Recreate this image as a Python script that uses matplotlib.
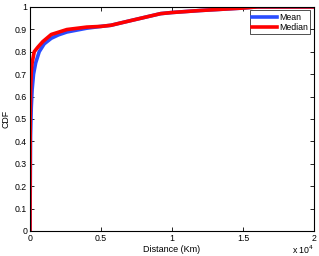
import matplotlib
matplotlib.use("Agg")
import matplotlib.pyplot as plt
from matplotlib.ticker import FuncFormatter

plt.rcParams['font.family'] = ['Liberation Sans', 'DejaVu Sans']

# distancia (km) y CDF
mean_x = [0, 40, 90, 150, 250, 400, 650, 1000, 1500, 2000, 2600, 4000, 5000, 5700, 6900, 9200, 10000, 12000, 15000, 16000, 20000]
mean_y = [0, 0.42, 0.55, 0.63, 0.70, 0.75, 0.80, 0.835, 0.86, 0.875, 0.888, 0.905, 0.913, 0.918, 0.936, 0.97, 0.975, 0.984, 0.995, 1.0, 1.0]
median_x = [0, 15, 40, 90, 150, 300, 550, 900, 1500, 2600, 4000, 5000, 5700, 6900, 9200, 10000, 12000, 15000, 16000, 20000]
median_y = [0, 0.5, 0.63, 0.71, 0.75, 0.80, 0.82, 0.845, 0.877, 0.899, 0.91, 0.913, 0.918, 0.936, 0.97, 0.975, 0.984, 0.995, 1.0, 1.0]

x_ticks = [0, 5000, 10000, 15000, 20000]
y_ticks = [0, 0.1, 0.2, 0.3, 0.4, 0.5, 0.6, 0.7, 0.8, 0.9, 1]

fig = plt.figure(figsize=(3.19, 2.56), dpi=100)
ax = fig.add_axes([0.094, 0.098, 0.89, 0.875])

ax.plot(mean_x, mean_y, color='#2a4dff', lw=2.6, label='Mean')
ax.plot(median_x, median_y, color='#ff0000', lw=2.6, label='Median')

ax.set_xlim(0, 20000)
ax.set_ylim(0, 1)
ax.set_xticks(x_ticks)
ax.set_yticks(y_ticks)
ax.xaxis.set_major_formatter(FuncFormatter(lambda v, p: '%g' % (v / 1e4)))
ax.yaxis.set_major_formatter(FuncFormatter(lambda v, p: '%g' % v))
ax.tick_params(direction='in', length=3, width=0.6, labelsize=6.3, pad=2,
               top=True, right=True)
for s in ax.spines.values():
    s.set_linewidth(0.8)

ax.set_xlabel('Distance (Km)', fontsize=6.5, labelpad=2)
ax.set_ylabel('CDF', fontsize=6.3, labelpad=3)
ax.text(1.0, -0.055, r'x 10$^4$', transform=ax.transAxes, fontsize=6.3,
        ha='right', va='top')

leg = ax.legend(loc='upper right', fontsize=6.3, frameon=True, fancybox=False,
                borderpad=0.25, handlelength=2.8, handletextpad=0.3,
                labelspacing=0.15, borderaxespad=0.4)
leg.get_frame().set_edgecolor('black')
leg.get_frame().set_linewidth(0.6)

fig.savefig('out.png', dpi=100)
